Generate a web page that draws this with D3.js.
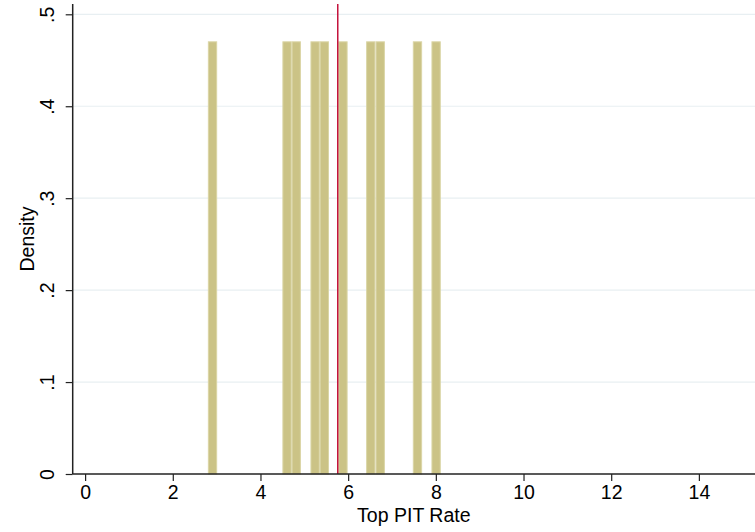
<!DOCTYPE html>
<html>
<head>
<meta charset="utf-8">
<script src="https://cdn.jsdelivr.net/npm/d3@7"></script>
<style>
  html, body { margin: 0; padding: 0; background: #ffffff; }
  svg { display: block; }
  text { font-family: "Liberation Sans", Arial, Helvetica, sans-serif; fill: #000; }
</style>
</head>
<body>
<svg id="chart" width="755" height="532"></svg>
<script>
// Histogram bins (left edges), common bin width and density heights
const binLefts = [2.80, 4.50, 4.71, 5.14, 5.35, 5.775, 6.41, 6.625, 7.475, 7.90];
const binWidth = 0.2125;
const densities = [0.4706, 0.4706, 0.4706, 0.4706, 0.4706, 0.4706, 0.4706, 0.4706, 0.4706, 0.4706];
const meanLine = 5.763;
const xTicks = [0, 2, 4, 6, 8, 10, 12, 14];
const yTicks = [0, 0.1, 0.2, 0.3, 0.4, 0.5];
const yTickLabels = ["0", ".1", ".2", ".3", ".4", ".5"];
const xTitle = "Top PIT Rate";
const yTitle = "Density";

const svg = d3.select("#chart");
const pL = 72.7, pR = 755, pT = 4, pB = 474;

const x = d3.scaleLinear().domain([-0.283, 15.28]).range([pL, pR]);
const y = d3.scaleLinear().domain([0, 0.5112]).range([pB, pT]);

// gridlines
svg.append("g").selectAll("line")
  .data(yTicks.filter(d => d > 0))
  .join("line")
  .attr("x1", pL).attr("x2", pR)
  .attr("y1", d => y(d)).attr("y2", d => y(d))
  .attr("stroke", "#e8eff2").attr("stroke-width", 1.2);

// bars
const bins = binLefts.map((b, i) => ({ x0: b, x1: b + binWidth, v: densities[i] }));
svg.append("g").selectAll("rect")
  .data(bins)
  .join("rect")
  .attr("x", d => x(d.x0) + 0.5)
  .attr("width", d => x(d.x1) - x(d.x0) - 1)
  .attr("y", d => y(d.v) + 0.5)
  .attr("height", d => y(0) - y(d.v) - 0.5)
  .attr("fill", "#cbc386")
  .attr("stroke", "#dad5a5")
  .attr("stroke-width", 1);

// mean line
svg.append("line")
  .attr("x1", x(meanLine)).attr("x2", x(meanLine))
  .attr("y1", pT).attr("y2", pB)
  .attr("stroke", "#c4123c").attr("stroke-width", 1.5);

// x axis
const xAxis = d3.axisBottom(x).tickValues(xTicks).tickSize(7).tickPadding(4).tickFormat(d3.format("d"));
const gx = svg.append("g").attr("transform", `translate(0,${pB})`).call(xAxis);
gx.select(".domain").attr("stroke", "#222").attr("stroke-width", 1.5).attr("d", `M${pL},0H${pR}`);
gx.selectAll(".tick line").attr("stroke", "#222").attr("stroke-width", 1.2);
gx.selectAll(".tick text").attr("font-size", 19.5).attr("font-family", "Liberation Sans, Arial, sans-serif").attr("fill", "#000");

// y axis
const yAxis = d3.axisLeft(y).tickValues(yTicks).tickSize(7).tickFormat((d, i) => yTickLabels[i]);
const gy = svg.append("g").attr("transform", `translate(${pL},0)`).call(yAxis);
gy.select(".domain").attr("stroke", "#222").attr("stroke-width", 1.5).attr("d", `M0,${pT}V${pB}`);
gy.selectAll(".tick line").attr("stroke", "#222").attr("stroke-width", 1.2);
gy.selectAll(".tick text")
  .attr("font-size", 19.5).attr("font-family", "Liberation Sans, Arial, sans-serif").attr("fill", "#000")
  .attr("x", null).attr("dy", null)
  .attr("text-anchor", "middle")
  .attr("transform", "translate(-26,0) rotate(-90)")
  .attr("dominant-baseline", "central");

// titles
svg.append("text")
  .attr("x", (pL + pR) / 2).attr("y", 522)
  .attr("text-anchor", "middle").attr("font-size", 19.5)
  .text(xTitle);
svg.append("text")
  .attr("transform", `translate(34,${(pT + pB) / 2}) rotate(-90)`)
  .attr("text-anchor", "middle").attr("font-size", 19.5)
  .text(yTitle);
</script>
</body>
</html>
